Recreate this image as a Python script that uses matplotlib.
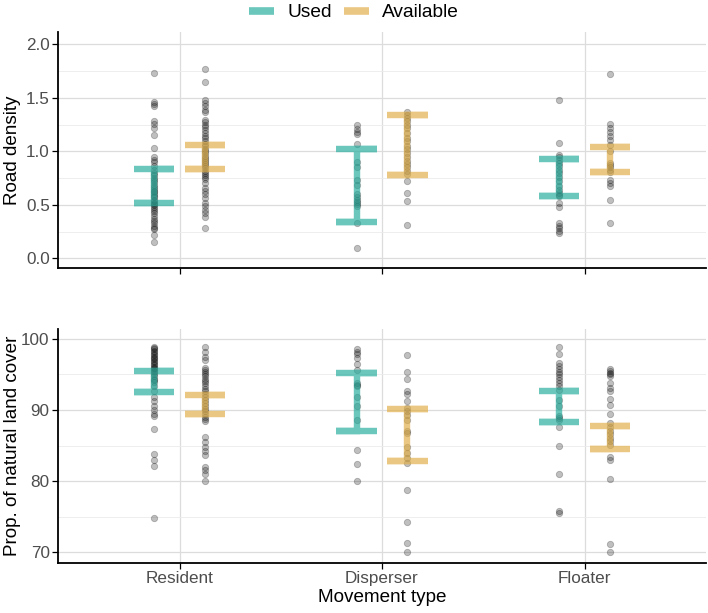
import numpy as np
import matplotlib
matplotlib.use("Agg")
import matplotlib.pyplot as plt
from matplotlib.lines import Line2D
from matplotlib.ticker import MultipleLocator

plt.rcParams['font.family'] = ['Liberation Sans', 'DejaVu Sans']

categories = ["Resident", "Disperser", "Floater"]
groups = ["Used", "Available"]

# Road density points
road_res_used = [1.73, 1.46, 1.44, 1.42, 1.28, 1.26, 1.22, 1.15, 1.03, 0.95, 0.92, 0.90, 0.86, 0.83, 0.80,
                 0.78, 0.75, 0.73, 0.71, 0.69, 0.67, 0.65, 0.63, 0.62, 0.60, 0.58, 0.57, 0.55, 0.54, 0.52,
                 0.51, 0.50, 0.48, 0.46, 0.44, 0.42, 0.40, 0.37, 0.35, 0.33, 0.30, 0.28, 0.27, 0.22, 0.15]
road_res_avail = [1.77, 1.645, 1.48, 1.45, 1.42, 1.39, 1.37, 1.29, 1.27, 1.25, 1.23, 1.20, 1.17, 1.14, 1.12,
                  1.10, 1.07, 1.05, 1.02, 1.00, 0.98, 0.96, 0.94, 0.92, 0.90, 0.88, 0.86, 0.84, 0.82, 0.80,
                  0.78, 0.76, 0.74, 0.70, 0.66, 0.63, 0.60, 0.56, 0.52, 0.49, 0.45, 0.42, 0.39, 0.28]
road_dis_used = [1.25, 1.21, 1.185, 1.16, 1.07, 0.905, 0.85, 0.73, 0.69, 0.60, 0.57, 0.55, 0.53, 0.51,
                 0.49, 0.33, 0.10]
road_dis_avail = [1.37, 1.34, 1.31, 1.28, 1.25, 1.22, 1.17, 1.12, 1.10, 1.05, 1.02, 0.98, 0.95, 0.91,
                  0.88, 0.85, 0.82, 0.79, 0.72, 0.61, 0.54, 0.31]
road_flo_used = [1.48, 1.08, 0.97, 0.95, 0.92, 0.89, 0.86, 0.83, 0.80, 0.76, 0.72, 0.68, 0.64, 0.61,
                 0.59, 0.58, 0.52, 0.476, 0.33, 0.30, 0.28, 0.26, 0.24]
road_flo_avail = [1.72, 1.256, 1.216, 1.185, 1.145, 1.107, 1.06, 1.007, 0.89, 0.87, 0.85, 0.83, 0.81,
                  0.734, 0.703, 0.678, 0.548, 0.326]

# Natural land cover points
nat_res_used = [98.9, 98.7, 98.5, 98.3, 98.1, 97.9, 97.7, 97.5, 97.3, 97.1, 96.9, 96.7, 96.5, 96.3, 96.1,
                95.9, 95.7, 95.5, 95.3, 95.0, 94.7, 94.4, 94.2, 93.9, 93.3, 92.6, 91.8, 91.2, 90.6, 90.0,
                89.5, 89.1, 87.3, 83.8, 82.9, 82.1, 74.8]
nat_res_avail = [98.9, 98.2, 97.5, 97.0, 95.9, 95.6, 95.3, 95.0, 94.7, 94.4, 94.1, 93.8, 93.4, 93.0, 92.6,
                 92.2, 91.8, 91.4, 91.0, 90.6, 90.2, 89.8, 89.4, 89.0, 88.7, 88.4, 86.2, 85.5, 84.8, 84.2,
                 83.7, 82.0, 81.6, 81.0, 80.0]
nat_dis_used = [98.5, 98.2, 97.8, 97.3, 96.5, 95.6, 93.8, 93.5, 93.3, 91.8, 90.5, 88.6, 84.4, 82.4, 80.0]
nat_dis_avail = [97.75, 95.3, 94.4, 92.6, 92.3, 91.2, 90.3, 89.8, 89.3, 88.6, 87.1, 86.8, 84.8, 84.0,
                 83.2, 82.5, 78.7, 74.2, 71.3, 70.1]
nat_flo_used = [98.8, 97.8, 96.6, 96.2, 95.8, 95.4, 95.0, 94.6, 94.2, 93.8, 93.4, 92.8, 91.4, 90.6,
                89.2, 88.8, 88.6, 87.6, 85.0, 81.0, 75.8, 75.5]
nat_flo_avail = [95.7, 95.5, 95.2, 95.0, 94.7, 93.8, 93.1, 92.6, 91.5, 90.7, 89.5, 88.1, 87.6, 87.1,
                 86.6, 86.1, 85.6, 85.1, 83.4, 82.9, 80.3, 71.1, 70.1]

# Interval bars (lower, upper) per category, per group
road_used_lo = [0.52, 0.336, 0.585]
road_used_hi = [0.837, 1.023, 0.933]
road_avail_lo = [0.834, 0.78, 0.806]
road_avail_hi = [1.06, 1.337, 1.045]
nat_used_lo = [92.5, 87.0, 88.3]
nat_used_hi = [95.5, 95.25, 92.6]
nat_avail_lo = [89.5, 82.8, 84.45]
nat_avail_hi = [92.07, 90.1, 87.75]

road_points = {"Used": [road_res_used, road_dis_used, road_flo_used],
               "Available": [road_res_avail, road_dis_avail, road_flo_avail]}
nat_points = {"Used": [nat_res_used, nat_dis_used, nat_flo_used],
              "Available": [nat_res_avail, nat_dis_avail, nat_flo_avail]}
road_bars = {"Used": (road_used_lo, road_used_hi), "Available": (road_avail_lo, road_avail_hi)}
nat_bars = {"Used": (nat_used_lo, nat_used_hi), "Available": (nat_avail_lo, nat_avail_hi)}

colors = {"Used": "#25AC9C", "Available": "#E1AF48"}
offsets = {"Used": -0.125, "Available": 0.125}
cap_half = 0.1

W, H = 708, 613
fig = plt.figure(figsize=(W / 100, H / 100), dpi=100)
ax1 = fig.add_axes([58 / W, 1 - 268 / H, 648 / W, 236 / H])
ax2 = fig.add_axes([58 / W, 1 - 563 / H, 648 / W, 234 / H])


def draw(ax, points, bars):
    xs = np.arange(1, len(categories) + 1)
    for g in groups:
        lo, hi = bars[g]
        for i, x in enumerate(xs):
            xp = x + offsets[g]
            vals = np.asarray(points[g][i])
            ax.scatter(np.full(len(vals), xp), vals, s=21, facecolor=(0, 0, 0, 0.25),
                       edgecolor=(0, 0, 0, 0.25), linewidths=0.6, zorder=3)
        for i, x in enumerate(xs):
            xp = x + offsets[g]
            px = [xp - cap_half, xp + cap_half, xp, xp, xp - cap_half, xp + cap_half]
            py = [hi[i], hi[i], hi[i], lo[i], lo[i], lo[i]]
            ax.plot(px, py, color=colors[g], alpha=0.68, lw=4.6, solid_capstyle='butt',
                    solid_joinstyle='miter', zorder=4)
    ax.set_xlim(0.4, 3.6)
    ax.set_xticks(xs)
    for s in ['top', 'right']:
        ax.spines[s].set_visible(False)
    for s in ['left', 'bottom']:
        ax.spines[s].set_linewidth(1.3)
        ax.spines[s].set_color('black')
    ax.grid(True, which='major', color='#DCDCDC', lw=0.9, zorder=0)
    ax.grid(True, which='minor', axis='y', color='#EBEBEB', lw=0.6, zorder=0)
    ax.set_axisbelow(True)
    ax.tick_params(axis='both', which='major', length=4, width=0.9, color='black',
                   labelsize=12.3, labelcolor='#4D4D4D', pad=2)
    ax.tick_params(axis='y', which='minor', length=0)


draw(ax1, road_points, road_bars)
ax1.set_ylim(-0.09, 2.115)
ax1.yaxis.set_major_locator(MultipleLocator(0.5))
ax1.yaxis.set_minor_locator(MultipleLocator(0.25))
ax1.yaxis.set_major_formatter(matplotlib.ticker.FormatStrFormatter('%.1f'))
ax1.set_xticklabels([])
ax1.set_ylabel("Road density", fontsize=13.6)

draw(ax2, nat_points, nat_bars)
ax2.set_ylim(68.5, 101.37)
ax2.yaxis.set_major_locator(MultipleLocator(10))
ax2.yaxis.set_minor_locator(MultipleLocator(5))
ax2.set_xticklabels(categories)
ax2.set_ylabel("Prop. of natural land cover", fontsize=13.6)
ax2.set_xlabel("Movement type", fontsize=13.6, labelpad=2)

label_x = (21 - 58) / 648
ax1.yaxis.set_label_coords(label_x, 0.5)
ax2.yaxis.set_label_coords(label_x, 0.5)

handles = [Line2D([0], [0], color=colors[g], alpha=0.68, lw=5.5, solid_capstyle='butt') for g in groups]
fig.legend(handles, groups, loc='center', bbox_to_anchor=(0.5, 1 - 12.6 / H), ncol=2, frameon=False,
           fontsize=13.8, handlelength=1.3, handletextpad=0.7, columnspacing=0.65)

fig.savefig("out.png", dpi=100)
